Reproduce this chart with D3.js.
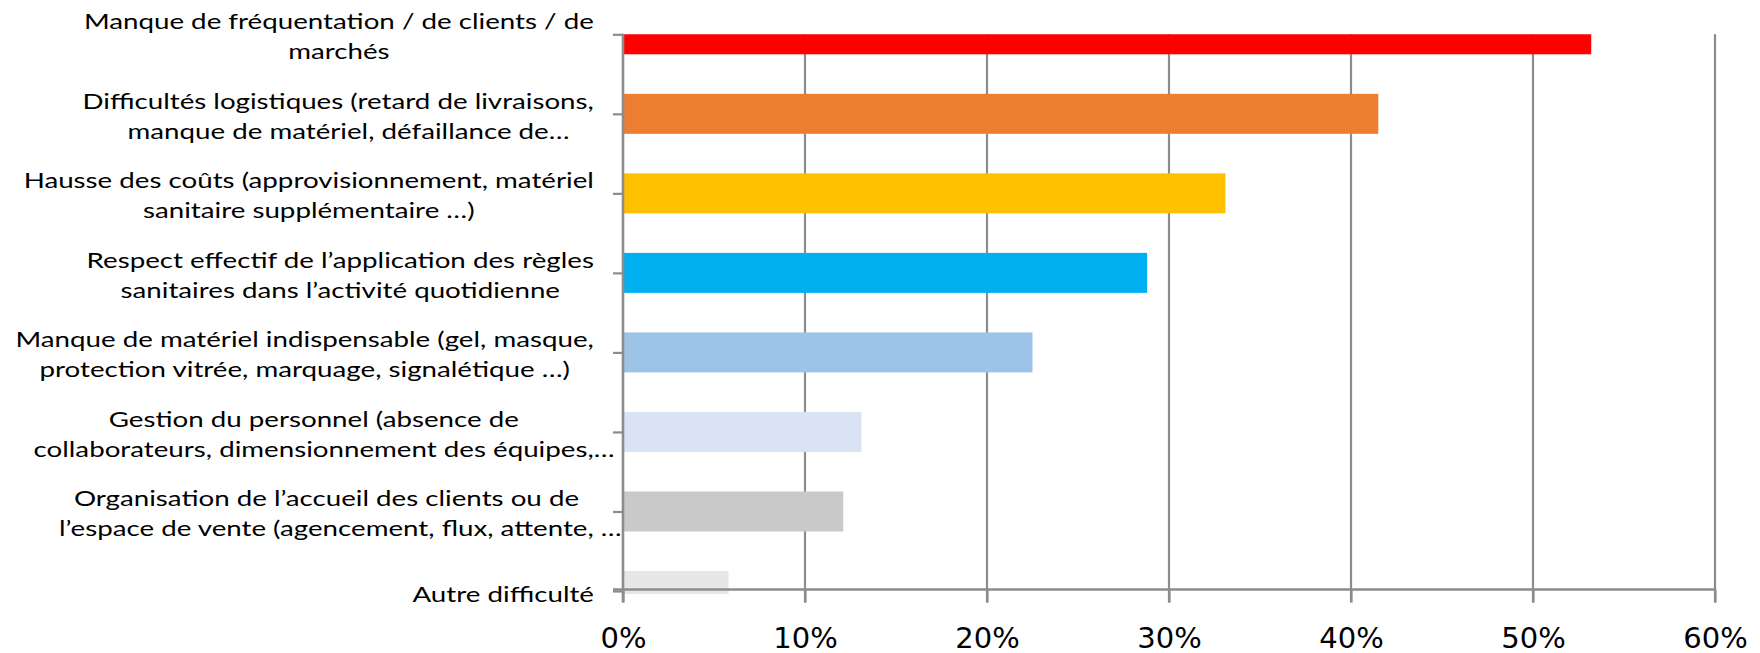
<!DOCTYPE html>
<html><head><meta charset="utf-8">
<script src="https://cdn.jsdelivr.net/npm/d3@7"></script>
<style>body{margin:0;background:#fff} svg{display:block}</style>
</head><body>
<svg id="c" width="1760" height="653"></svg>
<script>
// ---- data ----
const categories = [
  "Manque de fréquentation / de clients / de marchés",
  "Difficultés logistiques (retard de livraisons, manque de matériel, défaillance de…",
  "Hausse des coûts (approvisionnement, matériel sanitaire supplémentaire …)",
  "Respect effectif de l’application des règles sanitaires dans l’activité quotidienne",
  "Manque de matériel indispensable (gel, masque, protection vitrée, marquage, signalétique …)",
  "Gestion du personnel (absence de collaborateurs, dimensionnement des équipes,…",
  "Organisation de l’accueil des clients ou de l’espace de vente (agencement, flux, attente, …",
  "Autre difficulté"
];
const categoryLines = [
  ["Manque de fréquentation / de clients / de", "marchés"],
  ["Difficultés logistiques (retard de livraisons,", "manque de matériel, défaillance de…"],
  ["Hausse des coûts (approvisionnement,  matériel", "sanitaire supplémentaire  …)"],
  ["Respect effectif de l’application des règles", "sanitaires dans l’activité quotidienne"],
  ["Manque de matériel indispensable  (gel, masque,", "protection  vitrée, marquage, signalétique  …)"],
  ["Gestion  du personnel  (absence de", "collaborateurs,  dimensionnement  des équipes,…"],
  ["Organisation de l’accueil des clients  ou de", "l’espace de vente (agencement, flux,  attente, …"],
  ["Autre difficulté"]
];
const values = [53.2, 41.5, 33.1, 28.8, 22.5, 13.1, 12.1, 5.8];
const barColors = ["#FF0000", "#ED7D31", "#FFC000", "#00B0F0", "#9DC3E6", "#DAE3F3", "#C9C9C9", "#E6E6E6"];
const xTicks = [0, 10, 20, 30, 40, 50, 60];
const xTickLabels = ["0%", "10%", "20%", "30%", "40%", "50%", "60%"];

// ---- layout ----
const svg = d3.select("#c");
const pLeft = 623, pRight = 1715, pTop = 34.3, pBottom = 591, axisY = 589.5;
const gridColor = "#8c8c8c";
const x = d3.scaleLinear().domain([0, 60]).range([pLeft, pRight]);
const y = d3.scalePoint().domain(categories).range([pTop, pBottom]);
const barH = 40;

svg.append("defs").append("clipPath").attr("id", "plot")
  .append("rect").attr("x", pLeft).attr("y", pTop).attr("width", pRight - pLeft + 2).attr("height", pBottom + 3 - pTop);

// gridlines (extend below as ticks)
svg.append("g").selectAll("line").data(xTicks.slice(1)).join("line")
  .attr("x1", d => x(d)).attr("x2", d => x(d))
  .attr("y1", pTop).attr("y2", axisY + 13)
  .attr("stroke", gridColor).attr("stroke-width", 2.2);

// bars
svg.append("g").attr("clip-path", "url(#plot)")
  .selectAll("rect").data(values).join("rect")
  .attr("x", x(0))
  .attr("y", (d, i) => y(categories[i]) - barH / 2)
  .attr("width", d => x(d) - x(0))
  .attr("height", barH)
  .attr("fill", (d, i) => barColors[i]);

// x axis
const xAxis = d3.axisBottom(x).tickValues(xTicks)
  .tickFormat((d, i) => xTickLabels[i]).tickSizeInner(13).tickSizeOuter(0).tickPadding(25);
const gx = svg.append("g").attr("transform", `translate(0,${axisY})`).call(xAxis);
gx.select(".domain").remove();
gx.selectAll(".tick line").attr("stroke", gridColor).attr("stroke-width", 2.2);
gx.selectAll(".tick text").attr("fill", "#000")
  .style("font-family", "'DejaVu Sans', sans-serif").style("font-size", "29px");
svg.append("line").attr("x1", pLeft - 10).attr("x2", pRight + 1).attr("y1", axisY).attr("y2", axisY)
  .attr("stroke", gridColor).attr("stroke-width", 2.6);

// y axis
const yAxis = d3.axisLeft(y).tickSizeInner(10).tickSizeOuter(0).tickFormat("");
const gy = svg.append("g").attr("transform", `translate(${pLeft},0)`).call(yAxis);
gy.select(".domain").remove();
gy.selectAll(".tick line").attr("stroke", gridColor).attr("stroke-width", 2.2);
svg.append("line").attr("x1", pLeft).attr("x2", pLeft).attr("y1", pTop - 0.5).attr("y2", axisY + 13)
  .attr("stroke", gridColor).attr("stroke-width", 2.6);

// category labels (horizontally stretched like the source)
const labelFont = "Lato, 'Open Sans', sans-serif";
const labelR = 594;
const sx = 1.32;
const lg = svg.append("g").style("font-family", labelFont).style("font-size", "21px")
  .attr("fill", "#000").style("white-space", "pre");
categoryLines.forEach((lines, i) => {
  const cy = y(categories[i]);
  const offs = lines.length === 1 ? [11] : [-5, 25];
  const tmp = lg.append("text");
  const widths = lines.map(s => {
    tmp.text(s.endsWith("…") ? s.slice(0, -1) : s);
    return tmp.node().getComputedTextLength();
  });
  tmp.remove();
  const W = d3.max(widths);
  const cx = labelR - W * sx / 2;
  const g = lg.append("g").attr("transform", `translate(${cx},${cy}) scale(${sx},1)`);
  lines.forEach((s, j) => {
    const t = g.append("text").attr("y", offs[j]).text(s);
    if (s.endsWith("…")) {
      t.attr("x", -widths[j] / 2).attr("text-anchor", "start");
    } else {
      t.attr("x", 0).attr("text-anchor", "middle");
    }
  });
});
</script>
</body></html>
